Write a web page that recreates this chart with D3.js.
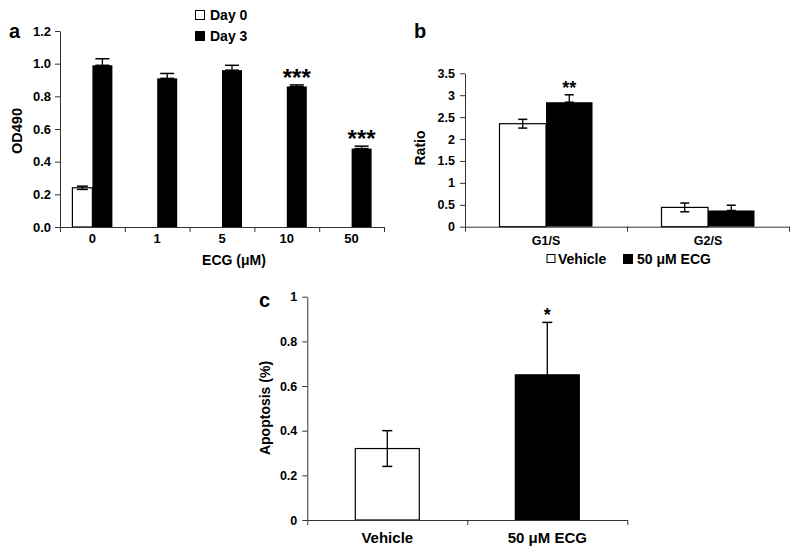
<!DOCTYPE html>
<html>
<head>
<meta charset="utf-8">
<script src="https://cdn.jsdelivr.net/npm/d3@7"></script>
<style>
body { margin: 0; background: #fff; }
text { font-family: "Liberation Sans", Arial, sans-serif; font-weight: bold; fill: #000; }
</style>
</head>
<body>
<div id="chart"></div>
<script>
// panel a: cell growth
var concLabels = ["0", "1", "5", "10", "50"];
var day0Values = [0.24, null, null, null, null];
var day0Errors = [0.01, null, null, null, null];
var day3Values = [0.99, 0.91, 0.96, 0.86, 0.48];
var day3Errors = [0.04, 0.03, 0.03, 0.01, 0.015];
var day3Stars = ["", "", "", "***", "***"];
var aTicks = [0, 0.2, 0.4, 0.6, 0.8, 1.0, 1.2];

// panel b: cell cycle ratio
var phases = ["G1/S", "G2/S"];
var vehicleRatio = [2.35, 0.44];
var vehicleRatioErr = [0.1, 0.1];
var ecgRatio = [2.84, 0.37];
var ecgRatioErr = [0.17, 0.12];
var ratioStars = ["**", ""];
var bTicks = [0, 0.5, 1, 1.5, 2, 2.5, 3, 3.5];

// panel c: apoptosis
var treatments = ["Vehicle", "50 \u03bcM ECG"];
var apoptosis = [0.32, 0.65];
var apoptosisErr = [0.08, 0.235];
var apoptosisStars = ["", "*"];
var cTicks = [0, 0.2, 0.4, 0.6, 0.8, 1];

var svg = d3.select("#chart").append("svg")
    .attr("width", 800)
    .attr("height", 554);

var axisColor = "#333";
var plain = function(d) { return String(d); };

function styleAxis(g, size) {
    g.selectAll("path,line").attr("stroke", axisColor).attr("stroke-width", 1);
    g.selectAll("text").style("font-size", size + "px").attr("fill", "#000");
    g.attr("font-family", null).attr("font-size", null);
}

function errorBar(g, cx, yTop, yBot, cap) {
    g.append("line").attr("x1", cx).attr("x2", cx).attr("y1", yTop).attr("y2", yBot)
        .attr("stroke", "#000").attr("stroke-width", 1.3);
    g.append("line").attr("x1", cx - cap / 2).attr("x2", cx + cap / 2).attr("y1", yTop).attr("y2", yTop)
        .attr("stroke", "#000").attr("stroke-width", 1.5);
    g.append("line").attr("x1", cx - cap / 2).attr("x2", cx + cap / 2).attr("y1", yBot).attr("y2", yBot)
        .attr("stroke", "#000").attr("stroke-width", 1.5);
}

// ---------- panel a ----------
var ax0 = 60, ax1 = 384, ay0 = 227, ay1 = 31;
var xa = d3.scaleBand().domain(concLabels).range([ax0, ax1]);
var xaSub = d3.scaleBand().domain(["Day 0", "Day 3"]).range([0, 40]);
var ya = d3.scaleLinear().domain([0, 1.2]).range([ay0, ay1]);
var xaTicks = d3.scaleLinear().domain([0, concLabels.length]).range([ax0, ax1]);

var ga = svg.append("g");
var aBars = ga.append("g");
concLabels.forEach(function(c, i) {
    var left = xa(c) + (xa.bandwidth() - 40) / 2;
    if (day0Values[i] != null) {
        var x0 = left + xaSub("Day 0");
        aBars.append("rect").attr("x", x0).attr("y", ya(day0Values[i]))
            .attr("width", xaSub.bandwidth()).attr("height", ay0 - ya(day0Values[i]))
            .attr("fill", "#fff").attr("stroke", "#000").attr("stroke-width", 1.2);
        errorBar(aBars, x0 + xaSub.bandwidth() / 2, ya(day0Values[i] + day0Errors[i]), ya(day0Values[i] - day0Errors[i]), 11);
    }
    var x3 = left + xaSub("Day 3");
    aBars.append("rect").attr("x", x3).attr("y", ya(day3Values[i]))
        .attr("width", xaSub.bandwidth()).attr("height", ay0 - ya(day3Values[i]))
        .attr("fill", "#000");
    errorBar(aBars, x3 + xaSub.bandwidth() / 2, ya(day3Values[i] + day3Errors[i]), ya(day3Values[i]), 14);
    if (day3Stars[i]) {
        aBars.append("text").attr("x", x3 + xaSub.bandwidth() / 2).attr("y", ya(day3Values[i] + day3Errors[i]) + 1)
            .attr("text-anchor", "middle").style("font-size", "24px").text(day3Stars[i]);
    }
});

ga.append("g").attr("transform", "translate(" + ax0 + ",0)")
    .call(d3.axisLeft(ya).tickValues(aTicks).tickFormat(d3.format(".1f")).tickSize(5).tickPadding(4).tickSizeOuter(0))
    .call(styleAxis, 13);
ga.append("g").attr("transform", "translate(0," + ay0 + ")")
    .call(d3.axisBottom(xaTicks).tickValues(d3.range(concLabels.length + 1)).tickFormat("").tickSize(5).tickSizeOuter(0))
    .call(styleAxis, 13);
ga.selectAll(".xlab").data(concLabels).enter().append("text")
    .attr("x", function(d) { return xa(d) + xa.bandwidth() / 2; })
    .attr("y", 243).attr("text-anchor", "middle").style("font-size", "13px").text(function(d) { return d; });
ga.append("text").attr("x", 234).attr("y", 265).attr("text-anchor", "middle")
    .style("font-size", "14px").text("ECG (\u03bcM)");
ga.append("text").attr("transform", "translate(22,131) rotate(-90)").attr("text-anchor", "middle")
    .style("font-size", "14.5px").text("OD490");
ga.append("text").attr("x", 9).attr("y", 38).style("font-size", "20px").text("a");

// legend a
ga.append("rect").attr("x", 195.5).attr("y", 10.5).attr("width", 9).attr("height", 9)
    .attr("fill", "#fff").attr("stroke", "#000").attr("stroke-width", 1);
ga.append("text").attr("x", 210).attr("y", 20).style("font-size", "14px").text("Day 0");
ga.append("rect").attr("x", 195).attr("y", 31).attr("width", 10).attr("height", 10).attr("fill", "#000");
ga.append("text").attr("x", 210).attr("y", 41).style("font-size", "14px").text("Day 3");

// ---------- panel b ----------
var bx0 = 465, bx1 = 789, by0 = 226.7, by1 = 73.3;
var xb = d3.scaleBand().domain(phases).range([bx0, bx1]);
var xbSub = d3.scaleBand().domain(["Vehicle", "ECG"]).range([0, 93]);
var yb = d3.scaleLinear().domain([0, 3.5]).range([by0, by1]);
var xbTicks = d3.scaleLinear().domain([0, phases.length]).range([bx0, bx1]);

var gb = svg.append("g");
phases.forEach(function(p, i) {
    var left = xb(p) + (xb.bandwidth() - 93) / 2;
    var xv = left + xbSub("Vehicle");
    gb.append("rect").attr("x", xv).attr("y", yb(vehicleRatio[i]))
        .attr("width", xbSub.bandwidth()).attr("height", by0 - yb(vehicleRatio[i]))
        .attr("fill", "#fff").attr("stroke", "#000").attr("stroke-width", 1.2);
    errorBar(gb, xv + xbSub.bandwidth() / 2, yb(vehicleRatio[i] + vehicleRatioErr[i]), yb(vehicleRatio[i] - vehicleRatioErr[i]), 9);
    var xe = left + xbSub("ECG");
    gb.append("rect").attr("x", xe).attr("y", yb(ecgRatio[i]))
        .attr("width", xbSub.bandwidth()).attr("height", by0 - yb(ecgRatio[i]))
        .attr("fill", "#000");
    errorBar(gb, xe + xbSub.bandwidth() / 2, yb(ecgRatio[i] + ecgRatioErr[i]), yb(ecgRatio[i]), 9);
    if (ratioStars[i]) {
        gb.append("text").attr("x", xe + xbSub.bandwidth() / 2).attr("y", yb(ecgRatio[i] + ecgRatioErr[i]) - 1)
            .attr("text-anchor", "middle").style("font-size", "18px").text(ratioStars[i]);
    }
});
gb.append("g").attr("transform", "translate(" + bx0 + ",0)")
    .call(d3.axisLeft(yb).tickValues(bTicks).tickFormat(plain).tickSize(5).tickPadding(5).tickSizeOuter(0))
    .call(styleAxis, 12.5);
gb.append("g").attr("transform", "translate(0," + by0 + ")")
    .call(d3.axisBottom(xbTicks).tickValues(d3.range(phases.length + 1)).tickFormat("").tickSize(5).tickSizeOuter(0))
    .call(styleAxis, 12.5);
gb.selectAll(".xlab").data(phases).enter().append("text")
    .attr("x", function(d) { return xb(d) + xb.bandwidth() / 2; })
    .attr("y", 244.5).attr("text-anchor", "middle").style("font-size", "12.5px").text(function(d) { return d; });
gb.append("text").attr("transform", "translate(425,148) rotate(-90)").attr("text-anchor", "middle")
    .style("font-size", "14px").text("Ratio");
gb.append("text").attr("x", 414).attr("y", 38).style("font-size", "20px").text("b");

// legend b
gb.append("rect").attr("x", 547).attr("y", 254.5).attr("width", 8).attr("height", 8)
    .attr("fill", "#fff").attr("stroke", "#000").attr("stroke-width", 1);
gb.append("text").attr("x", 558).attr("y", 264).style("font-size", "14px").text("Vehicle");
gb.append("rect").attr("x", 623).attr("y", 254).attr("width", 10).attr("height", 10).attr("fill", "#000");
gb.append("text").attr("x", 637).attr("y", 264).style("font-size", "14px").text("50 \u03bcM ECG");

// ---------- panel c ----------
var cx0 = 307.3, cx1 = 627.3, cy0 = 520, cy1 = 296.7;
var xc = d3.scaleBand().domain(treatments).range([cx0, cx1]);
var yc = d3.scaleLinear().domain([0, 1]).range([cy0, cy1]);
var xcTicks = d3.scaleLinear().domain([0, treatments.length]).range([cx0, cx1]);
var barW = xc.bandwidth() * 0.4;

var gc = svg.append("g");
treatments.forEach(function(t, i) {
    var x = xc(t) + (xc.bandwidth() - barW) / 2;
    var black = i === 1;
    gc.append("rect").attr("x", x).attr("y", yc(apoptosis[i]))
        .attr("width", barW).attr("height", cy0 - yc(apoptosis[i]))
        .attr("fill", black ? "#000" : "#fff").attr("stroke", "#000").attr("stroke-width", 1.2);
    errorBar(gc, x + barW / 2, yc(apoptosis[i] + apoptosisErr[i]), yc(apoptosis[i] - apoptosisErr[i]), 10);
    if (apoptosisStars[i]) {
        gc.append("text").attr("x", x + barW / 2).attr("y", yc(apoptosis[i] + apoptosisErr[i]) - 1)
            .attr("text-anchor", "middle").style("font-size", "18px").text(apoptosisStars[i]);
    }
});
gc.append("g").attr("transform", "translate(" + cx0 + ",0)")
    .call(d3.axisLeft(yc).tickValues(cTicks).tickFormat(plain).tickSize(5).tickPadding(5).tickSizeOuter(0))
    .call(styleAxis, 12.5);
gc.append("g").attr("transform", "translate(0," + cy0 + ")")
    .call(d3.axisBottom(xcTicks).tickValues(d3.range(treatments.length + 1)).tickFormat("").tickSize(5).tickSizeOuter(0))
    .call(styleAxis, 12.5);
gc.selectAll(".xlab").data(treatments).enter().append("text")
    .attr("x", function(d) { return xc(d) + xc.bandwidth() / 2; })
    .attr("y", 543).attr("text-anchor", "middle").style("font-size", "15px").text(function(d) { return d; });
gc.append("text").attr("transform", "translate(270,408) rotate(-90)").attr("text-anchor", "middle")
    .style("font-size", "14px").text("Apoptosis (%)");
gc.append("text").attr("x", 259).attr("y", 307).style("font-size", "20px").text("c");
</script>
</body>
</html>
